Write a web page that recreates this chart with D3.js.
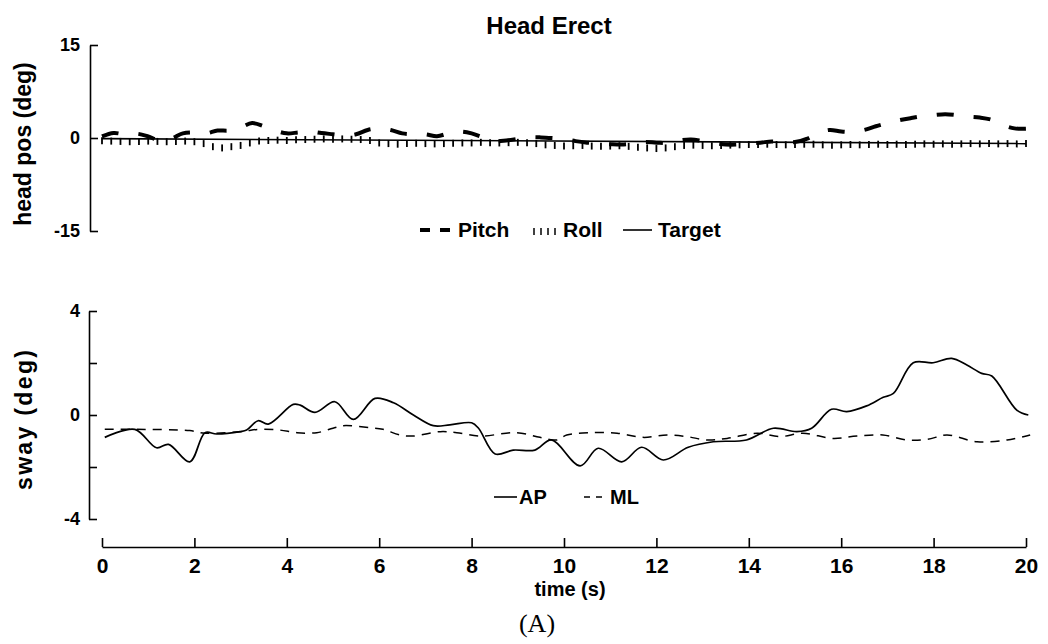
<!DOCTYPE html>
<html><head><meta charset="utf-8">
<script src="https://cdn.jsdelivr.net/npm/d3@7"></script>
<style>
html,body{margin:0;padding:0;background:#fff;}
svg{display:block;}
text{font-family:"Liberation Sans",Arial,Helvetica,sans-serif;font-weight:bold;fill:#000;}
</style></head>
<body>
<svg id="chart" width="1048" height="644"></svg>
<script>
// ---------- DATA ----------
const title = "Head Erect";
const xTicks = [0, 2, 4, 6, 8, 10, 12, 14, 16, 18, 20];
const topTicks = [-15, 0, 15];
const botTicks = [-4, -2, 0, 2, 4];
const botTickLabels = ["-4", "", "0", "", "4"];

// head pitch (deg) sampled every 0.25 s from 0 to 20 s
const pitchStep = 0.25;
const pitch = [0.25,0.8,0.6,0.7,0.25,-0.4,-0.1,0.75,0.9,0.75,1.2,1.2,1.7,2.4,1.9,1.2,
  0.75,0.9,1.05,0.8,0.6,0.4,0.6,1.3,1.55,1.3,0.75,0.6,0.6,0.3,0.75,1.05,0.75,
  0.1,-0.5,-0.4,-0.15,0.1,0.1,0,-0.15,-0.5,-0.75,-0.9,-1.0,-1.05,-0.9,-0.65,
  -0.75,-0.8,-0.4,-0.25,-0.5,-0.8,-1.05,-1.05,-0.9,-0.75,-0.55,-0.65,-0.65,
  -0.15,0.8,1.3,1.05,1.0,1.3,1.9,2.4,2.85,3.2,3.5,3.7,3.85,3.7,3.45,3.3,2.95,2.1,1.55,1.5];

// head roll (deg) sampled every 0.2 s from 0 to 20 s
const rollStep = 0.2;
const roll = [-0.45,-0.5,-0.55,-0.6,-0.55,-0.5,-0.55,-0.6,-0.55,-0.5,-0.6,
  -0.9,-1.4,-1.6,-1.4,-1.2,-0.8,
  -0.5,-0.4,-0.35,-0.4,-0.3,
  -0.25,-0.2,-0.15,-0.2,-0.15,-0.2,-0.25,-0.4,
  -0.8,-0.9,-1.0,-0.9,-0.85,-0.9,-0.95,-0.9,-0.85,-0.8,-0.8,
  -0.7,-0.75,-0.8,-0.75,-0.7,-0.75,-0.9,
  -1.1,-1.2,-1.3,-1.25,-1.2,-1.3,-1.35,-1.3,-1.25,-1.35,
  -1.5,-1.6,-1.7,-1.6,-1.4,
  -1.2,-1.15,-1.2,-1.25,-1.2,-1.15,-1.1,-1.05,
  -1.05,-1.0,-1.05,-1.1,-1.05,-1.0,-1.0,
  -1.1,-1.15,-1.1,-1.05,-1.1,-1.05,-1.0,-1.05,-1.0,-1.05,-1.0,-0.95,-1.0,-0.95,-1.0,-0.95,-0.9,-0.95,-0.9,-0.95,-0.9,-0.95,-0.9];

// target (deg)
const targetTime = [0, 20];
const targetVal = [-0.1, -0.9];

// AP sway (deg) at key times (s)
const apTime = [0.06,0.71,1.18,1.44,1.9,2.23,2.48,2.99,3.13,3.38,3.6,4.14,4.29,4.61,5.04,5.44,5.91,6.31,6.74,7.17,7.53,8.0,8.15,8.51,8.9,9.37,9.73,10.35,10.74,11.25,11.68,12.15,12.69,13.23,13.95,14.53,15.04,15.36,15.79,16.12,16.55,16.91,17.13,17.56,17.99,18.39,18.72,19.04,19.26,19.8,20.05];
const apVal = [-0.86,-0.55,-1.26,-1.13,-1.8,-0.68,-0.73,-0.64,-0.58,-0.22,-0.35,0.41,0.38,0.1,0.51,-0.17,0.64,0.47,0,-0.41,-0.38,-0.3,-0.51,-1.5,-1.35,-1.35,-0.96,-1.96,-1.28,-1.8,-1.24,-1.73,-1.24,-1.03,-0.96,-0.51,-0.64,-0.51,0.22,0.13,0.35,0.68,0.83,2.01,2.01,2.18,1.92,1.6,1.5,0.19,0];

// ML sway (deg) at key times (s)
const mlTime = [0.06,0.71,1.9,2.23,2.99,3.42,3.85,4.22,4.65,5.0,5.22,5.8,6.08,6.45,6.73,7.32,7.68,8.18,8.98,9.48,9.85,10.06,10.56,11.15,11.71,12.23,12.66,13.09,13.53,14.18,14.68,15.17,15.82,16.34,16.9,17.42,17.86,18.29,18.94,19.59,20.09];
const mlVal = [-0.55,-0.55,-0.6,-0.7,-0.64,-0.55,-0.58,-0.68,-0.68,-0.51,-0.41,-0.49,-0.55,-0.77,-0.81,-0.64,-0.68,-0.81,-0.68,-0.86,-0.96,-0.77,-0.68,-0.7,-0.86,-0.77,-0.83,-0.96,-0.9,-0.7,-0.83,-0.7,-0.9,-0.81,-0.77,-0.96,-0.94,-0.77,-1.03,-0.96,-0.77];

// ---------- DRAW ----------
const svg = d3.select("#chart");
const x = d3.scaleLinear().domain([0, 20]).range([102, 1026]);
const yTop = d3.scaleLinear().domain([-15, 15]).range([231, 45]);
const yBot = d3.scaleLinear().domain([-4, 4]).range([519, 311]);

svg.append("text").attr("x", 549).attr("y", 34).attr("text-anchor", "middle")
  .style("font-size", "24px").text(title);

function styleAxis(g, fs) {
  g.selectAll("path,line").attr("stroke", "#000").attr("stroke-width", 1.6);
  g.selectAll("text").style("font-size", fs).attr("fill", "#000")
    .style("font-family", "'Liberation Sans',Arial,sans-serif").style("font-weight", "bold");
}

// top y axis
const gTop = svg.append("g").attr("transform", "translate(90,0)")
  .call(d3.axisLeft(yTop).tickValues(topTicks).tickSizeInner(-8).tickSizeOuter(0)
    .tickPadding(10).tickFormat(d => String(d)));
styleAxis(gTop, "18px");

// bottom y axis
const gBot = svg.append("g").attr("transform", "translate(89,0)")
  .call(d3.axisLeft(yBot).tickValues(botTicks).tickSizeInner(-8).tickSizeOuter(0)
    .tickPadding(9).tickFormat((d, i) => botTickLabels[i]));
styleAxis(gBot, "18px");

// x axis
const gX = svg.append("g").attr("transform", "translate(0,547)")
  .call(d3.axisBottom(x).tickValues(xTicks).tickSizeInner(-9).tickSizeOuter(0)
    .tickPadding(11).tickFormat(d => String(d)));
styleAxis(gX, "21px");

// axis titles
svg.append("text").attr("transform", "translate(31,144) rotate(-90)")
  .attr("text-anchor", "middle").style("font-size", "23px").text("head pos (deg)");
svg.append("text").attr("transform", "translate(32,420) rotate(-90)")
  .attr("text-anchor", "middle").style("font-size", "23px")
  .attr("textLength", 140).attr("lengthAdjust", "spacing").text("sway (deg)");
svg.append("text").attr("x", 570).attr("y", 596).attr("text-anchor", "middle")
  .style("font-size", "20px").text("time (s)");
svg.append("text").attr("x", 537).attr("y", 632).attr("text-anchor", "middle")
  .style("font-family", "'Liberation Serif','Times New Roman',serif").style("font-weight", "normal")
  .style("font-size", "26px").text("(A)");

// top panel series
const pitchData = pitch.map((v, i) => [i * pitchStep, v]);
const lineTop = d3.line().x(d => x(d[0])).y(d => yTop(d[1])).curve(d3.curveCatmullRom);
svg.append("path").datum(targetTime.map((t, i) => [t, targetVal[i]]))
  .attr("d", lineTop).attr("fill", "none").attr("stroke", "#000").attr("stroke-width", 1.6);
svg.append("path").datum(pitchData).attr("d", lineTop).attr("fill", "none")
  .attr("stroke", "#000").attr("stroke-width", 4).attr("stroke-dasharray", "17,20");
svg.append("g").selectAll("line").data(roll.map((v, i) => [i * rollStep, v])).join("line")
  .attr("x1", d => x(d[0])).attr("x2", d => x(d[0]))
  .attr("y1", d => yTop(d[1]) - 3.5).attr("y2", d => yTop(d[1]) + 3.5)
  .attr("stroke", "#000").attr("stroke-width", 1.8);

// top legend
const lg = svg.append("g");
lg.append("line").attr("x1", 420).attr("x2", 452).attr("y1", 230).attr("y2", 230)
  .attr("stroke", "#000").attr("stroke-width", 4).attr("stroke-dasharray", "10,10");
lg.append("text").attr("x", 458).attr("y", 237).style("font-size", "21px").text("Pitch");
[534, 541, 548, 555].forEach(xx => lg.append("line").attr("x1", xx).attr("x2", xx)
  .attr("y1", 228).attr("y2", 235).attr("stroke", "#000").attr("stroke-width", 1.5));
lg.append("text").attr("x", 563).attr("y", 237).style("font-size", "21px").text("Roll");
lg.append("line").attr("x1", 623).attr("x2", 652).attr("y1", 230).attr("y2", 230)
  .attr("stroke", "#000").attr("stroke-width", 1.6);
lg.append("text").attr("x", 658).attr("y", 237).style("font-size", "21px").text("Target");

// bottom panel series
const lineBot = d3.line().x(d => x(d[0])).y(d => yBot(d[1])).curve(d3.curveCatmullRom);
svg.append("path").datum(mlTime.map((t, i) => [t, mlVal[i]])).attr("d", lineBot)
  .attr("fill", "none").attr("stroke", "#000").attr("stroke-width", 1.5)
  .attr("stroke-dasharray", "9,7");
svg.append("path").datum(apTime.map((t, i) => [t, apVal[i]])).attr("d", lineBot)
  .attr("fill", "none").attr("stroke", "#000").attr("stroke-width", 1.7);

// bottom legend
const lb = svg.append("g");
lb.append("line").attr("x1", 494).attr("x2", 517).attr("y1", 497).attr("y2", 497)
  .attr("stroke", "#000").attr("stroke-width", 1.6);
lb.append("text").attr("x", 519).attr("y", 504).style("font-size", "20px").text("AP");
lb.append("line").attr("x1", 584).attr("x2", 604).attr("y1", 497).attr("y2", 497)
  .attr("stroke", "#000").attr("stroke-width", 1.6).attr("stroke-dasharray", "6,6");
lb.append("text").attr("x", 610).attr("y", 504).style("font-size", "20px").text("ML");
</script>
</body></html>
